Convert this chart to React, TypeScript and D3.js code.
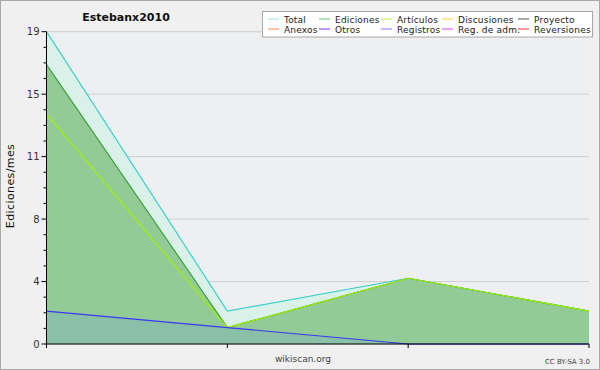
import React from "react";
import * as d3 from "d3";

const months = ["m1", "m2", "m3", "m4"];
const total = [19, 2, 4, 2];
const ediciones = [17, 1, 4, 2];
const articulos = [14, 1, 4, 2];
const registros = [2, 1, 0, 0];

const legendRow1 = [
  { name: "Total", color: "#99e6e6" },
  { name: "Ediciones", color: "#66c87a" },
  { name: "Artículos", color: "#bbee33" },
  { name: "Discusiones", color: "#ffcc33" },
  { name: "Proyecto", color: "#555555" },
];
const legendRow2 = [
  { name: "Anexos", color: "#ff8844" },
  { name: "Otros", color: "#8833dd" },
  { name: "Registros", color: "#7777ff" },
  { name: "Reg. de adm.", color: "#dd44ee" },
  { name: "Reversiones", color: "#ee3333" },
];
const legendCols = [268, 319, 381, 442, 518];

const W = 600;
const H = 370;
const left = 46.5;
const right = 589;
const top = 31.7;
const bottom = 344;

export default function App() {
  const x = d3.scalePoint<string>().domain(months).range([left, right]);
  const y = d3.scaleLinear().domain([0, 19]).range([bottom, top]);

  const majors = d3.range(0, 6).map((i) => (19 * i) / 5);
  const minors = d3.range(0, 21).map((i) => (19 * i) / 20).filter((_, i) => i % 4 !== 0);

  const area = (vals: number[]) =>
    d3
      .area<number>()
      .x((_, i) => x(months[i])!)
      .y0(y(0))
      .y1((d) => y(d))(vals)!;
  const line = (vals: number[]) =>
    d3
      .line<number>()
      .x((_, i) => x(months[i])!)
      .y((d) => y(d))(vals)!;

  const font = "DejaVu Sans, sans-serif";

  return (
    <svg
      width={W}
      height={H}
      style={{ position: "absolute", left: 0, top: 0 }}
      fontFamily={font}
    >
      <rect x={0.5} y={0.5} width={W - 1} height={H - 1} fill="#f0f0f0" stroke="#a8a8a8" />
      <rect x={left} y={top} width={right - left} height={bottom - top} fill="#eeeff1" />
      {majors.map((v, i) => (
        <line key={"g" + i} x1={left} x2={right} y1={y(v)} y2={y(v)} stroke="#cfcfd2" strokeWidth={1} />
      ))}

      <path d={area(total)} fill="#daf1ea" />
      <path d={area(ediciones)} fill="#93cb97" />
      <path d={area(registros)} fill="#6a9be0" fillOpacity={0.22} />

      <path d={line(total)} fill="none" stroke="#3dd0cc" strokeWidth={1.2} />
      <path d={line(ediciones)} fill="none" stroke="#3fa03f" strokeWidth={1.2} />
      <path d={line(articulos)} fill="none" stroke="#a4ee00" strokeWidth={1.2} />
      <path d={line(registros)} fill="none" stroke="#3838f0" strokeWidth={1.2} />

      {/* y axis */}
      <line x1={left} x2={left} y1={top} y2={bottom} stroke="#000" />
      {majors.map((v, i) => (
        <g key={"t" + i}>
          <line x1={left - 5} x2={left} y1={y(v)} y2={y(v)} stroke="#000" />
          <text x={left - 7} y={y(v) + 3.5} fontSize={10} textAnchor="end" fill="#333">
            {Math.round(v)}
          </text>
        </g>
      ))}
      {minors.map((v, i) => (
        <line key={"m" + i} x1={left - 3} x2={left} y1={y(v)} y2={y(v)} stroke="#000" />
      ))}

      {/* x axis */}
      <line x1={left} x2={right} y1={bottom} y2={bottom} stroke="#000" />
      {months.map((m) => (
        <line key={m} x1={x(m)!} x2={x(m)!} y1={bottom} y2={bottom + 4} stroke="#000" />
      ))}

      <text x={126} y={21} fontSize={11} fontWeight="bold" textAnchor="middle" fill="#111">
        Estebanx2010
      </text>
      <text
        transform={`translate(14,186) rotate(-90)`}
        fontSize={11}
        letterSpacing={0.4}
        textAnchor="middle"
        fill="#111"
      >
        Ediciones/mes
      </text>
      <text x={303} y={362} fontSize={9} textAnchor="middle" fill="#444">
        wikiscan.org
      </text>
      <text x={590} y={364} fontSize={7} textAnchor="end" fill="#444">
        CC BY-SA 3.0
      </text>

      {/* legend */}
      <rect x={262.5} y={11.5} width={330} height={25.5} fill="#fff" stroke="#a8a8a8" />
      {[legendRow1, legendRow2].map((row, r) =>
        row.map((it, i) => (
          <g key={it.name}>
            <line
              x1={legendCols[i]}
              x2={legendCols[i] + 11}
              y1={19 + r * 10}
              y2={19 + r * 10}
              stroke={it.color}
            />
            <text x={legendCols[i] + 16} y={22.5 + r * 10} fontSize={9} letterSpacing={0.2} fill="#222">
              {it.name}
            </text>
          </g>
        ))
      )}
    </svg>
  );
}
